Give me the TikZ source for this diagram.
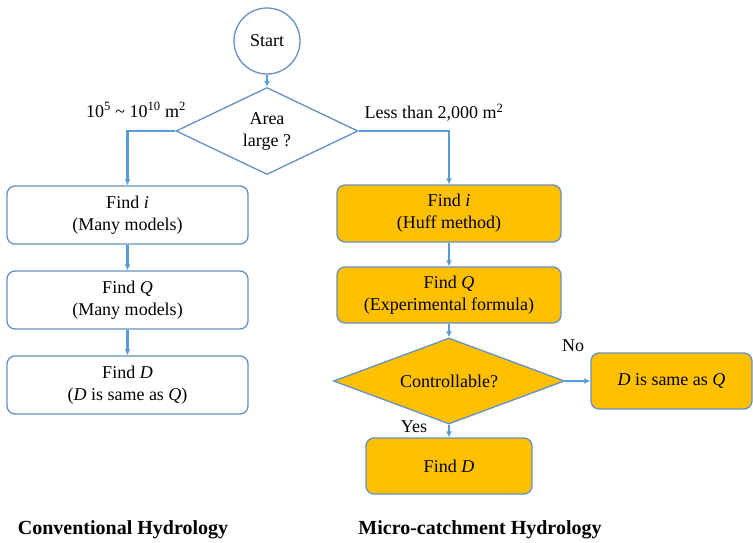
\documentclass[tikz,border=0pt]{standalone}
\usepackage{fontspec}
\setmainfont{Liberation Serif}
\usepackage{xcolor}
\usepackage{tikz}
\usetikzlibrary{
    shapes.geometric,
    arrows.meta
}
\definecolor{boxline}{RGB}{100,145,195}
\definecolor{flowblue}{RGB}{91,155,213}
\definecolor{gold}{RGB}{255,192,0}
\tikzset{
    every node/.style={font=\fontsize{18}{22}\selectfont},
    plainbox/.style={draw=boxline, line width=1.3pt, rounded corners=8pt, align=center, fill=white},
    goldbox/.style={plainbox, fill=gold},
    askbox/.style={diamond, draw=boxline, line width=1.3pt, align=center, inner sep=0pt},
    flow/.style={draw=flowblue, line width=2.5pt, -{Latex[length=6pt,width=6pt]}},
    headline/.style={font=\fontsize{20}{24}\selectfont\bfseries}
}

\begin{document}
\begin{tikzpicture}[x=1pt, y=-1pt]
		\useasboundingbox (0, 0) rectangle (753, 542);
		\node[circle, draw=boxline, line width=1.3pt, minimum size=66pt, inner sep=0pt] (start) at (267, 41) {Start};
		\node[askbox, fill=white, minimum width=182pt, minimum height=87pt, aspect=2.1] (area) at (267, 131) {Area\\large ?};
		\node[plainbox, minimum width=241pt, minimum height=58pt] (mi) at (127.5, 215) {Find \textit{i}\\(Many models)};
		\node[plainbox, minimum width=241pt, minimum height=58pt] (mq) at (127.5, 300) {Find \textit{Q}\\(Many models)};
		\node[plainbox, minimum width=241pt, minimum height=58pt] (md) at (127.5, 385) {Find \textit{D}\\(\textit{D} is same as \textit{Q})};
		\node[goldbox, minimum width=224pt, minimum height=57pt] (hi) at (449, 213.5) {Find \textit{i}\\(Huff method)};
		\node[goldbox, minimum width=224pt, minimum height=56pt] (hq) at (449, 295) {Find \textit{Q}\\(Experimental formula)};
		\node[askbox, fill=gold, minimum width=231pt, minimum height=86pt, aspect=2.7] (ctrl) at (449, 381) {Controllable?};
		\node[goldbox, minimum width=166pt, minimum height=56pt] (hd) at (449, 466) {Find \textit{D}};
		\node[goldbox, minimum width=161pt, minimum height=56pt] (same) at (671.5, 381) {\textit{D} is same as \textit{Q}};
		\node (lbllarge) at (136, 110) {10\textsuperscript{5} \textasciitilde{} 10\textsuperscript{10} m\textsuperscript{2}};
		\node (lblsmall) at (434, 113) {Less than 2,000 m\textsuperscript{2}};
		\node (lblno) at (573, 346) {No};
		\node (lblyes) at (414, 427) {Yes};
		\node[headline] (ttlconv) at (123, 530) {Conventional Hydrology};
		\node[headline] (ttlmicro) at (480, 530) {Micro-catchment Hydrology};
		\draw[flow] (start) -- (area);
		\draw[flow] (area.west) -| (mi.north);
		\draw[flow] (area.east) -| (hi.north);
		\draw[flow] (mi) -- (mq);
		\draw[flow] (mq) -- (md);
		\draw[flow] (hi) -- (hq);
		\draw[flow] (hq) -- (ctrl);
		\draw[flow] (ctrl) -- (hd);
		\draw[flow] (ctrl) -- (same);
	\end{tikzpicture}
\end{document}
